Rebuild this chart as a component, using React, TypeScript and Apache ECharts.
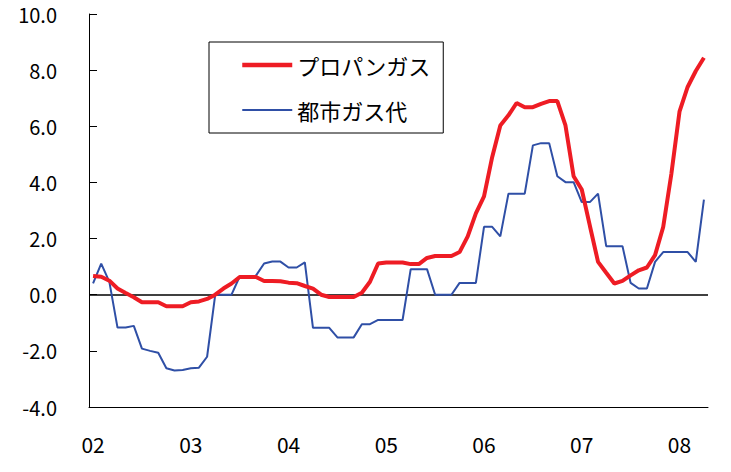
import React, { useEffect, useRef } from "react";
import * as echarts from "echarts";

// months Jan 2002 .. Apr 2008
const years = ["02", "03", "04", "05", "06", "07", "08"];
const months: string[] = [];
for (let y = 0; y < years.length; y++) {
  for (let m = 1; m <= 12; m++) {
    if (y === years.length - 1 && m > 4) break;
    months.push(years[y] + "-" + String(m).padStart(2, "0"));
  }
}

const propane = [
  0.67, 0.64, 0.5, 0.22, 0.06, -0.09, -0.27, -0.27, -0.27, -0.41, -0.41, -0.41,
  -0.27, -0.24, -0.15, 0.0, 0.22, 0.4, 0.63, 0.63, 0.63, 0.49, 0.49, 0.48,
  0.43, 0.41, 0.31, 0.22, 0.0, -0.08, -0.08, -0.08, -0.08, 0.07, 0.46, 1.11,
  1.15, 1.15, 1.15, 1.09, 1.09, 1.31, 1.38, 1.38, 1.38, 1.52, 2.08, 2.9,
  3.5, 4.9, 6.03, 6.39, 6.83, 6.68, 6.68, 6.8, 6.9, 6.9, 6.03, 4.22,
  3.75, 2.45, 1.17, 0.78, 0.4, 0.49, 0.69, 0.87, 0.97, 1.41, 2.41, 4.3,
  6.52, 7.4, 7.97, 8.44,
];

const cityGas = [
  0.4, 1.11, 0.46, -1.17, -1.17, -1.11, -1.92, -2.0, -2.07, -2.62, -2.7, -2.68,
  -2.62, -2.6, -2.21, 0.0, 0.0, 0.0, 0.65, 0.65, 0.68, 1.11, 1.18, 1.18,
  0.97, 0.97, 1.15, -1.18, -1.18, -1.18, -1.52, -1.52, -1.52, -1.05, -1.05, -0.9,
  -0.9, -0.9, -0.9, 0.91, 0.91, 0.91, 0.0, 0.0, 0.0, 0.42, 0.42, 0.42,
  2.42, 2.42, 2.08, 3.6, 3.6, 3.6, 5.32, 5.4, 5.4, 4.22, 4.01, 4.01,
  3.3, 3.3, 3.6, 1.73, 1.73, 1.73, 0.42, 0.22, 0.22, 1.17, 1.52, 1.52,
  1.52, 1.52, 1.17, 3.39,
];

const seriesNames = ["プロパンガス", "都市ガス代"];
const FONT = "'Noto Sans CJK JP', sans-serif";
const RED = "#ee1c24";
const BLUE = "#2f4fa6";

export default function App() {
  const ref = useRef<HTMLDivElement>(null);
  useEffect(() => {
    if (!ref.current) return;
    const chart = echarts.init(ref.current, undefined, { renderer: "svg" });
    chart.setOption({
      animation: false,
      backgroundColor: "#ffffff",
      textStyle: { fontFamily: FONT },
      grid: { left: 89, right: 23, top: 14, bottom: 65 },
      legend: {
        orient: "vertical",
        left: 209,
        top: 42,
        data: [
          { name: seriesNames[0], lineStyle: { width: 4.5, color: RED } },
          { name: seriesNames[1], lineStyle: { width: 2, color: BLUE } },
        ],
        itemWidth: 50,
        itemHeight: 14,
        itemGap: 23,
        padding: [12, 14, 12, 31],
        borderColor: "#000",
        borderWidth: 1,
        itemStyle: { opacity: 0, borderWidth: 0 },
        textStyle: { fontSize: 22, color: "#000", fontFamily: FONT },
      },
      xAxis: {
        type: "category",
        data: months,
        boundaryGap: true,
        axisLine: { onZero: false, lineStyle: { color: "#000", width: 1 } },
        axisTick: { interval: 0, inside: true, length: 8, lineStyle: { color: "#000" } },
        axisLabel: {
          interval: (index: number) => index % 12 === 0,
          formatter: (v: string) => v.slice(0, 2),
          margin: 26,
          fontSize: 21,
          color: "#000",
          fontFamily: FONT,
        },
        splitLine: { show: false },
      },
      yAxis: {
        type: "value",
        min: -4,
        max: 10,
        interval: 2,
        axisLine: { show: true, lineStyle: { color: "#000", width: 1 } },
        axisTick: { show: true, inside: true, length: 8, lineStyle: { color: "#000" } },
        axisLabel: {
          formatter: (v: number) => v.toFixed(1),
          margin: 32,
          fontSize: 20,
          color: "#000",
          fontFamily: FONT,
        },
        splitLine: { show: false },
      },
      series: [
        {
          name: seriesNames[0],
          type: "line",
          data: propane,
          symbol: "none",
          z: 3,
          lineStyle: { color: RED, width: 4 },
          itemStyle: { color: RED },
          markLine: {
            silent: true,
            symbol: "none",
            label: { show: false },
            lineStyle: { color: "#000", width: 1.5, type: "solid" },
            data: [{ yAxis: 0 }],
            z: 1,
          },
        },
        {
          name: seriesNames[1],
          type: "line",
          data: cityGas,
          symbol: "none",
          z: 2,
          lineStyle: { color: BLUE, width: 2 },
          itemStyle: { color: BLUE },
        },
      ],
    });
    return () => chart.dispose();
  }, []);
  return (
    <div
      ref={ref}
      style={{ position: "fixed", left: 0, top: 0, width: 731, height: 472 }}
    />
  );
}
